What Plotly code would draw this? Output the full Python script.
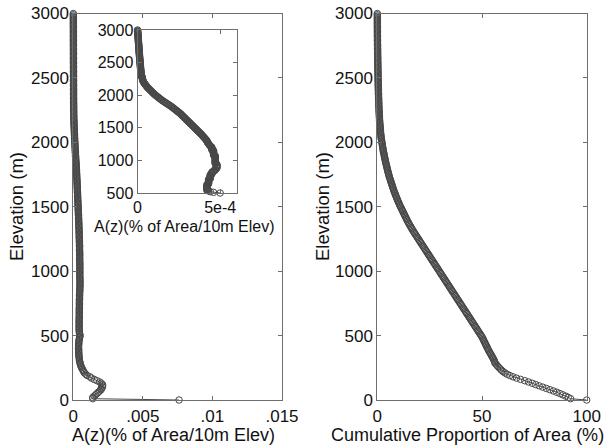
import numpy as np
import plotly.graph_objects as go

# Elevation bins (m), 10 m spacing
elevation = list(range(0, 3001, 10))

# A(z): % of area per 10 m elevation band, stored in units of 1e-4
area_e4 = [
    76.0, 14.0, 14.0, 15.0, 16.0, 17.0, 18.0, 19.0, 20.0, 20.0,      # 0-90
    21.0, 21.0, 21.0, 20.0, 19.0, 17.0, 15.0, 13.0, 12.0, 10.0,      # 100-190
    9.0, 8.0, 7.5, 7.0, 6.5, 6.0, 5.6, 5.3, 5.0, 4.8,                # 200-290
    4.6, 4.4, 4.3, 4.2, 4.1, 4.0, 4.0, 3.9, 3.9, 3.9,                # 300-390
    3.8, 3.8, 3.8, 3.9, 3.9, 4.0, 4.1, 4.2, 4.4, 4.6,                # 400-490
    5.0, 4.6, 4.4, 4.3, 4.2, 4.2, 4.2, 4.2, 4.2, 4.2,                # 500-590
    4.2, 4.2, 4.2, 4.2, 4.3, 4.3, 4.3, 4.3, 4.3, 4.3,                # 600-690
    4.3, 4.3, 4.4, 4.4, 4.4, 4.4, 4.4, 4.4, 4.4, 4.5,                # 700-790
    4.5, 4.5, 4.5, 4.6, 4.6, 4.7, 4.7, 4.7, 4.8, 4.8,                # 800-890
    4.8, 4.8, 4.8, 4.8, 4.8, 4.7, 4.7, 4.7, 4.7, 4.7,                # 900-990
    4.7, 4.7, 4.7, 4.7, 4.7, 4.7, 4.7, 4.7, 4.6, 4.6,                # 1000-1090
    4.6, 4.6, 4.6, 4.6, 4.6, 4.6, 4.5, 4.5, 4.5, 4.5,                # 1100-1190
    4.5, 4.45, 4.4, 4.37, 4.34, 4.31, 4.28, 4.25, 4.23, 4.21,        # 1200-1290
    4.20, 4.17, 4.14, 4.10, 4.07, 4.03, 4.00, 3.96, 3.93, 3.89,      # 1300-1390
    3.86, 3.82, 3.78, 3.74, 3.70, 3.66, 3.62, 3.58, 3.54, 3.50,      # 1400-1490
    3.46, 3.42, 3.38, 3.34, 3.30, 3.26, 3.22, 3.18, 3.14, 3.10,      # 1500-1590
    3.06, 3.02, 2.98, 2.94, 2.90, 2.86, 2.82, 2.78, 2.74, 2.70,      # 1600-1690
    2.66, 2.62, 2.58, 2.53, 2.48, 2.43, 2.38, 2.33, 2.28, 2.23,      # 1700-1790
    2.18, 2.13, 2.08, 2.03, 1.97, 1.91, 1.85, 1.79, 1.73, 1.67,      # 1800-1890
    1.61, 1.55, 1.49, 1.44, 1.39, 1.34, 1.29, 1.24, 1.19, 1.14,      # 1900-1990
    1.09, 1.04, 1.00, 0.96, 0.92, 0.88, 0.84, 0.80, 0.76, 0.72,      # 2000-2090
    0.68, 0.64, 0.60, 0.57, 0.54, 0.51, 0.48, 0.45, 0.42, 0.39,      # 2100-2190
    0.37, 0.35, 0.33, 0.32, 0.31, 0.30, 0.29, 0.28, 0.27, 0.26,      # 2200-2290
    0.25, 0.24, 0.23, 0.22, 0.22, 0.21, 0.21, 0.20, 0.20, 0.20,      # 2300-2390
    0.19, 0.19, 0.18, 0.18, 0.18, 0.17, 0.17, 0.17, 0.16, 0.16,      # 2400-2490
    0.16, 0.15, 0.15, 0.15, 0.14, 0.14, 0.14, 0.13, 0.13, 0.13,      # 2500-2590
    0.12, 0.12, 0.12, 0.11, 0.11, 0.11, 0.10, 0.10, 0.10, 0.10,      # 2600-2690
    0.09, 0.09, 0.09, 0.08, 0.08, 0.08, 0.08, 0.07, 0.07, 0.07,      # 2700-2790
    0.06, 0.06, 0.06, 0.05, 0.05, 0.05, 0.05, 0.04, 0.04, 0.04,      # 2800-2890
    0.03, 0.03, 0.03, 0.03, 0.02, 0.02, 0.02, 0.01, 0.01, 0.01,      # 2900-2990
    0.0,                                                             # 3000
]

# Cumulative proportion of area (%) above each elevation
cumulative_pct = [
    100.0, 92.3, 91.2, 90.0, 88.6, 87.2, 85.7, 84.1, 82.4, 80.7,     # 0-90
    79.0, 77.3, 75.6, 74.0, 72.2, 70.4, 68.4, 66.5, 64.8, 63.3,      # 100-190
    62.0, 61.0, 60.1, 59.4, 58.8, 58.2, 57.6, 57.1, 56.6, 56.1,      # 200-290
    56.0, 55.7, 55.4, 55.1, 54.7, 54.4, 54.0, 53.7, 53.3, 53.0,      # 300-390
    52.7, 52.4, 52.1, 51.8, 51.5, 51.2, 50.9, 50.6, 50.3, 50.0,      # 400-490
    49.6, 49.2, 48.8, 48.4, 48.0, 47.6, 47.2, 46.8, 46.4, 46.0,      # 500-590
    45.6, 45.2, 44.8, 44.4, 44.0, 43.6, 43.2, 42.8, 42.4, 42.0,      # 600-690
    41.6, 41.2, 40.8, 40.4, 40.0, 39.6, 39.2, 38.8, 38.4, 38.0,      # 700-790
    37.6, 37.2, 36.8, 36.4, 36.0, 35.6, 35.2, 34.8, 34.4, 34.0,      # 800-890
    33.6, 33.2, 32.8, 32.4, 32.0, 31.6, 31.2, 30.8, 30.4, 30.0,      # 900-990
    29.6, 29.2, 28.8, 28.4, 28.0, 27.6, 27.2, 26.8, 26.4, 26.0,      # 1000-1090
    25.6, 25.2, 24.8, 24.4, 24.0, 23.6, 23.2, 22.8, 22.4, 22.0,      # 1100-1190
    21.6, 21.2, 20.8, 20.4, 20.0, 19.6, 19.2, 18.8, 18.4, 18.0,      # 1200-1290
    17.6, 17.2, 16.8, 16.5, 16.1, 15.8, 15.4, 15.1, 14.7, 14.4,      # 1300-1390
    14.1, 13.8, 13.5, 13.2, 12.9, 12.6, 12.3, 12.0, 11.7, 11.4,      # 1400-1490
    11.1, 10.8, 10.5, 10.3, 10.0, 9.7, 9.5, 9.2, 9.0, 8.7,           # 1500-1590
    8.5, 8.3, 8.0, 7.8, 7.6, 7.4, 7.2, 7.0, 6.8, 6.6,                # 1600-1690
    6.4, 6.2, 6.0, 5.8, 5.6, 5.5, 5.3, 5.1, 5.0, 4.8,                # 1700-1790
    4.7, 4.5, 4.4, 4.2, 4.1, 3.9, 3.8, 3.7, 3.5, 3.4,                # 1800-1890
    3.3, 3.2, 3.0, 2.9, 2.8, 2.7, 2.6, 2.5, 2.4, 2.3,                # 1900-1990
    2.2, 2.1, 2.0, 1.9, 1.8, 1.75, 1.7, 1.6, 1.55, 1.5,              # 2000-2090
    1.45, 1.4, 1.35, 1.3, 1.25, 1.2, 1.15, 1.1, 1.06, 1.02,          # 2100-2190
    0.98, 0.95, 0.92, 0.89, 0.86, 0.83, 0.80, 0.78, 0.76, 0.74,      # 2200-2290
    0.72, 0.70, 0.68, 0.66, 0.64, 0.62, 0.60, 0.58, 0.56, 0.54,      # 2300-2390
    0.52, 0.50, 0.48, 0.46, 0.45, 0.44, 0.42, 0.41, 0.40, 0.38,      # 2400-2490
    0.37, 0.36, 0.35, 0.34, 0.33, 0.32, 0.31, 0.30, 0.29, 0.28,      # 2500-2590
    0.27, 0.26, 0.25, 0.24, 0.23, 0.22, 0.21, 0.20, 0.19, 0.18,      # 2600-2690
    0.17, 0.16, 0.15, 0.14, 0.13, 0.12, 0.11, 0.10, 0.09, 0.08,      # 2700-2790
    0.08, 0.07, 0.07, 0.06, 0.06, 0.05, 0.05, 0.04, 0.04, 0.03,      # 2800-2890
    0.03, 0.03, 0.02, 0.02, 0.02, 0.01, 0.01, 0.01, 0.01, 0.0,       # 2900-2990
    0.0,                                                             # 3000
]

elev_ticks = [0, 500, 1000, 1500, 2000, 2500, 3000]
main_x_ticks = [0, 0.005, 0.01, 0.015]
main_x_labels = ["0", ".005", ".01", ".015"]
inset_y_ticks = [500, 1000, 1500, 2000, 2500, 3000]
inset_x_ticks = [0, 5e-4]
inset_x_labels = ["0", "5e-4"]
cum_x_ticks = [0, 50, 100]

elev = np.array(elevation)
area = np.array(area_e4) * 1e-4
cum = np.array(cumulative_pct)
inset_mask = elev >= 500

W, H = 614, 445
def xd(a, b):
    return [a / W, b / W]
def yd(top, bottom):
    return [1 - bottom / H, 1 - top / H]

FONT = "Liberation Sans, Arial, Helvetica, sans-serif"
AX = "#6e6e6e"
MK = "#474747"
TXT = "#111111"

def marker_trace(x, y, xa, ya):
    return go.Scatter(
        x=x, y=y, xaxis=xa, yaxis=ya, mode="lines+markers",
        line=dict(color="#1a1a1a", width=0.8),
        marker=dict(symbol="circle-open", size=6.5, color=MK, line=dict(width=1)),
        cliponaxis=False, showlegend=False, hoverinfo="x+y",
    )

fig = go.Figure()
fig.add_trace(marker_trace(area, elev, "x", "y"))
fig.add_trace(marker_trace(cum, elev, "x2", "y2"))
fig.add_trace(marker_trace(area[inset_mask], elev[inset_mask], "x3", "y3"))

common = dict(
    showline=True, linecolor=AX, linewidth=1, mirror="allticks",
    ticks="inside", ticklen=4, tickcolor=AX, tickwidth=1,
    showgrid=False, zeroline=False, automargin=False, ticklabeloverflow="allow",
    tickfont=dict(family=FONT, size=17, color=TXT),
)
inset_common = dict(common)
inset_common["tickfont"] = dict(family=FONT, size=16, color=TXT)

def label(text, x, y, size, angle=0):
    return dict(text=text, x=x / W, y=1 - y / H, xref="paper", yref="paper",
                showarrow=False, textangle=angle, xanchor="center", yanchor="middle",
                borderpad=0, font=dict(family=FONT, size=size, color=TXT))

fig.update_layout(
    template="none",
    width=W, height=H, margin=dict(l=0, r=0, t=0, b=0),
    paper_bgcolor="white", plot_bgcolor="white",
    font=dict(family=FONT, color=TXT),
    xaxis=dict(domain=xd(73.3, 282), range=[0, 0.015], tickvals=main_x_ticks,
               ticktext=main_x_labels, anchor="y", ticklabelstandoff=1, **common),
    yaxis=dict(domain=yd(13.5, 400), range=[0, 3000], tickvals=elev_ticks,
               anchor="x", **common),
    xaxis2=dict(domain=xd(377.3, 586.7), range=[0, 100], tickvals=cum_x_ticks,
                anchor="y2", ticklabelstandoff=1, **common),
    yaxis2=dict(domain=yd(13.5, 400), range=[0, 3000], tickvals=elev_ticks,
                anchor="x2", **common),
    xaxis3=dict(domain=xd(137.5, 236.7), range=[0, 6e-4], tickvals=inset_x_ticks,
                ticktext=inset_x_labels, anchor="y3", **inset_common),
    yaxis3=dict(domain=yd(30, 193), range=[500, 3000], tickvals=inset_y_ticks,
                anchor="x3", **inset_common),
    annotations=[
        label("A(z)(% of Area/10m Elev)", 173, 434.5, 18),
        label("Elevation (m)", 16, 207, 18.5, -90),
        label("Cumulative Proportion of Area (%)", 467, 434.5, 18),
        label("Elevation (m)", 322, 207, 18.5, -90),
        label("A(z)(% of Area/10m Elev)", 184, 226, 16),
    ],
)

# Remove the default 8 px page margin so the figure fills the window exactly.
fig.write_html("out.html", config={"displayModeBar": False},
               post_script="document.body.style.margin='0';")
